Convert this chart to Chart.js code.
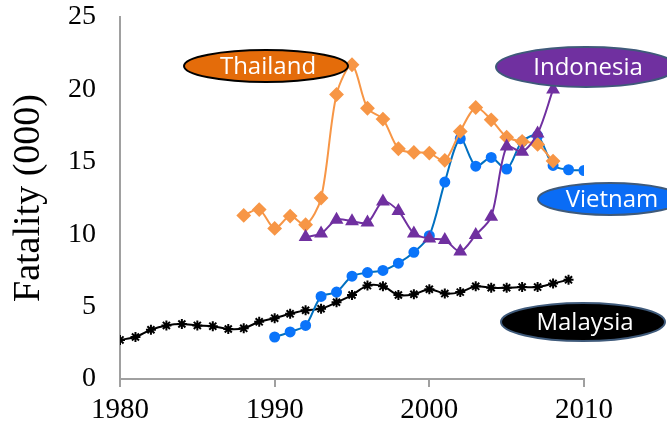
<!DOCTYPE html>
<html>
<head>
<meta charset="utf-8">
<script src="https://cdn.jsdelivr.net/npm/chart.js@4.4.1/dist/chart.umd.min.js"></script>
<style>
    html, body { margin: 0; padding: 0; background: #fff; }
    #wrap { width: 667px; height: 430px; }
</style>
</head>
<body>
<div id="wrap"><canvas id="fatalityChart"></canvas></div>
<script>
// Road fatalities (thousands) by country
const malaysiaYears = [1980, 1981, 1982, 1983, 1984, 1985, 1986, 1987, 1988, 1989, 1990, 1991, 1992, 1993, 1994, 1995, 1996, 1997, 1998, 1999, 2000, 2001, 2002, 2003, 2004, 2005, 2006, 2007, 2008, 2009];
const malaysiaValues = [2.7, 2.9, 3.4, 3.7, 3.8, 3.7, 3.65, 3.45, 3.5, 3.95, 4.2, 4.5, 4.75, 4.85, 5.3, 5.8, 6.45, 6.4, 5.8, 5.85, 6.2, 5.9, 6.0, 6.4, 6.3, 6.3, 6.35, 6.35, 6.6, 6.85];

const vietnamYears = [1990, 1991, 1992, 1993, 1994, 1995, 1996, 1997, 1998, 1999, 2000, 2001, 2002, 2003, 2004, 2005, 2006, 2007, 2008, 2009, 2010];
const vietnamValues = [2.9, 3.25, 3.7, 5.7, 6.0, 7.1, 7.35, 7.5, 8.0, 8.75, 9.9, 13.6, 16.6, 14.7, 15.3, 14.5, 16.4, 16.8, 14.75, 14.45, 14.4];

const thailandYears = [1988, 1989, 1990, 1991, 1992, 1993, 1994, 1995, 1996, 1997, 1998, 1999, 2000, 2001, 2002, 2003, 2004, 2005, 2006, 2007, 2008];
const thailandValues = [11.3, 11.7, 10.4, 11.25, 10.65, 12.5, 19.65, 21.7, 18.7, 17.95, 15.9, 15.65, 15.6, 15.1, 17.1, 18.75, 17.9, 16.7, 16.4, 16.2, 15.05];

const indonesiaYears = [1992, 1993, 1994, 1995, 1996, 1997, 1998, 1999, 2000, 2001, 2002, 2003, 2004, 2005, 2006, 2007, 2008];
const indonesiaValues = [9.8, 10.05, 11.0, 10.9, 10.8, 12.25, 11.6, 10.05, 9.7, 9.6, 8.8, 9.95, 11.2, 16.05, 15.7, 16.95, 20.0];

const xTicks = [1980, 1990, 2000, 2010];
const yTicks = [0, 5, 10, 15, 20, 25];

const toPoints = (years, values) => years.map((y, i) => ({ x: y, y: values[i] }));

// Oval call-out labels (Excel shapes)
const callouts = [
    { text: 'Thailand',  cx: 266, cy: 66,  rx: 82, ry: 16, fill: '#E46C0A', stroke: '#000000' },
    { text: 'Indonesia', cx: 586, cy: 67,  rx: 90, ry: 20, fill: '#7030A0', stroke: '#3F5A7A' },
    { text: 'Vietnam',   cx: 610, cy: 199, rx: 72, ry: 16, fill: '#0A6CF5', stroke: '#3F5A7A' },
    { text: 'Malaysia',  cx: 583, cy: 322, rx: 82, ry: 19, fill: '#000000', stroke: '#3F5A7A' }
];

const calloutPlugin = {
    id: 'callouts',
    afterDraw(chart) {
        const ctx = chart.ctx;
        ctx.save();
        callouts.forEach(c => {
            ctx.beginPath();
            ctx.ellipse(c.cx, c.cy, c.rx, c.ry, 0, 0, Math.PI * 2);
            ctx.fillStyle = c.fill;
            ctx.fill();
            ctx.lineWidth = 2;
            ctx.strokeStyle = c.stroke;
            ctx.stroke();
            ctx.fillStyle = '#ffffff';
            ctx.font = "24px 'Open Sans', sans-serif";
            ctx.textAlign = 'center';
            ctx.textBaseline = 'middle';
            ctx.fillText(c.text, c.cx + 2, c.cy + 1);
        });
        ctx.restore();
    }
};

const serif = "'Liberation Serif', 'Times New Roman', serif";

new Chart(document.getElementById('fatalityChart'), {
    type: 'line',
    data: {
        datasets: [
            {
                label: 'Indonesia',
                data: toPoints(indonesiaYears, indonesiaValues),
                borderColor: '#7030A0',
                backgroundColor: '#7030A0',
                pointStyle: 'triangle',
                pointRadius: 6,
                borderWidth: 2
            },
            {
                label: 'Thailand',
                data: toPoints(thailandYears, thailandValues),
                borderColor: '#F79646',
                backgroundColor: '#F79646',
                pointStyle: 'rectRot',
                pointRadius: 6,
                borderWidth: 2
            },
            {
                label: 'Vietnam',
                data: toPoints(vietnamYears, vietnamValues),
                borderColor: '#0070C0',
                backgroundColor: '#0A74FA',
                pointBorderColor: '#0A74FA',
                pointStyle: 'circle',
                pointRadius: 4.5,
                borderWidth: 2
            },
            {
                label: 'Malaysia',
                data: toPoints(malaysiaYears, malaysiaValues),
                borderColor: '#000000',
                backgroundColor: '#000000',
                pointStyle: 'star',
                pointRadius: 5,
                pointBorderWidth: 2,
                borderWidth: 2
            }
        ]
    },
    options: {
        responsive: true,
        maintainAspectRatio: false,
        animation: false,
        tension: 0.3,
        layout: { padding: { left: 0, right: 83, top: 17, bottom: 0 } },
        plugins: {
            legend: { display: false },
            tooltip: { enabled: false }
        },
        scales: {
            x: {
                type: 'linear',
                min: 1980,
                max: 2010,
                afterBuildTicks: axis => { axis.ticks = xTicks.map(v => ({ value: v })); },
                afterFit: axis => {
                    axis.height = 51;
                    axis.paddingLeft = 0;
                    axis.paddingRight = 0;
                },
                grid: { drawOnChartArea: false, drawTicks: true, tickLength: 8, color: '#A0A0A0', lineWidth: 2 },
                border: { display: true, color: '#A0A0A0', width: 2 },
                ticks: {
                    color: '#000',
                    font: { family: serif, size: 29 },
                    padding: 6,
                    maxRotation: 0,
                    callback: v => String(v)
                }
            },
            y: {
                min: 0,
                max: 25,
                afterBuildTicks: axis => { axis.ticks = yTicks.map(v => ({ value: v })); },
                afterFit: axis => {
                    axis.width = 120;
                    axis.paddingTop = 0;
                    axis.paddingBottom = 0;
                },
                grid: { display: false, drawTicks: false },
                border: { display: true, color: '#A0A0A0', width: 2 },
                ticks: {
                    color: '#000',
                    font: { family: serif, size: 28 },
                    padding: 24,
                    callback: v => String(v)
                },
                title: {
                    display: true,
                    text: 'Fatality (000)',
                    color: '#000',
                    font: { family: serif, size: 38 },
                    padding: { top: 6, bottom: 0 }
                }
            }
        }
    },
    plugins: [calloutPlugin]
});
</script>
</body>
</html>
